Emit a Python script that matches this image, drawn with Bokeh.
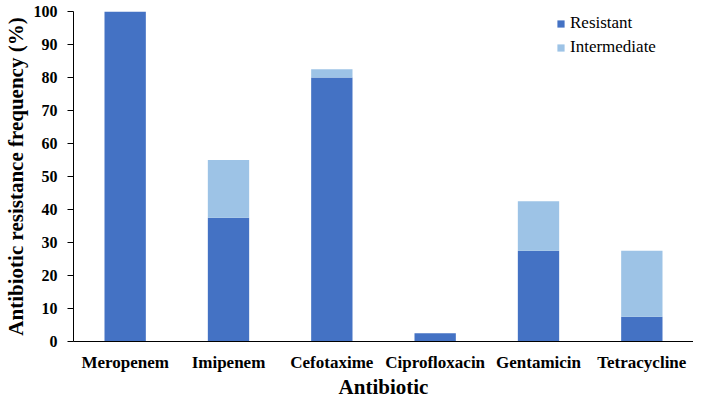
from bokeh.plotting import figure
from bokeh.models import FactorRange, Range1d, SingleIntervalTicker
from bokeh.embed import file_html
from bokeh.resources import INLINE

categories = ["Meropenem", "Imipenem", "Cefotaxime", "Ciprofloxacin", "Gentamicin", "Tetracycline"]
resistant = [100, 37.5, 80, 2.5, 27.5, 7.5]
intermediate = [0, 17.5, 2.5, 0, 15, 20]
series = ["Resistant", "Intermediate"]
colors = ["#4472C4", "#9DC3E6"]
x_title = "Antibiotic"
y_title = "Antibiotic resistance frequency (%)"

data = {"cat": categories, "Resistant": resistant, "Intermediate": intermediate}

FONT = "Liberation Serif"
W, H = 693, 401
LEFT, RIGHT, TOP, BOTTOM = 67, 0, 11, 60

p = figure(width=W, height=H, x_range=FactorRange(*categories, range_padding=0),
           y_range=Range1d(0, 100), output_backend="svg", toolbar_location=None,
           min_border_left=LEFT, min_border_right=RIGHT, min_border_top=TOP,
           min_border_bottom=BOTTOM)

p.vbar_stack(series, x="cat", width=0.4, color=colors, line_color=None,
             source=data, legend_label=series)

p.xgrid.grid_line_color = None
p.ygrid.grid_line_color = None
p.outline_line_color = None
p.background_fill_color = "white"
p.border_fill_color = "white"

# y axis
p.yaxis.ticker = SingleIntervalTicker(interval=10)
p.yaxis.axis_label = y_title
p.yaxis.axis_label_text_font = FONT
p.yaxis.axis_label_text_font_style = "bold"
p.yaxis.axis_label_text_font_size = "21px"
p.yaxis.axis_label_text_color = "black"
p.yaxis.axis_label_standoff = 3
p.yaxis.major_label_text_font = FONT
p.yaxis.major_label_text_font_style = "bold"
p.yaxis.major_label_text_font_size = "16px"
p.yaxis.major_label_text_color = "black"
p.yaxis.major_label_standoff = 10
p.yaxis.major_tick_out = 6
p.yaxis.major_tick_in = 0
p.yaxis.minor_tick_line_color = None
p.yaxis.axis_line_color = "black"
p.yaxis.major_tick_line_color = "black"

# x axis
p.xaxis.axis_label = x_title
p.xaxis.axis_label_text_font = FONT
p.xaxis.axis_label_text_font_style = "bold"
p.xaxis.axis_label_text_font_size = "21px"
p.xaxis.axis_label_text_color = "black"
p.xaxis.axis_label_standoff = 0
p.xaxis.major_label_text_font = FONT
p.xaxis.major_label_text_font_style = "bold"
p.xaxis.major_label_text_font_size = "17px"
p.xaxis.major_label_text_color = "black"
p.xaxis.major_label_standoff = 11
p.xaxis.major_tick_line_color = None
p.xaxis.major_tick_out = 0
p.xaxis.major_tick_in = 0
p.xaxis.axis_line_color = "black"

# legend
lg = p.legend[0]
lg.location = (483, 282)
lg.border_line_color = None
lg.background_fill_alpha = 0
lg.padding = 0
lg.margin = 0
lg.spacing = 0
lg.glyph_width = 9
lg.glyph_height = 9
lg.label_height = 24
lg.label_standoff = 5
lg.label_text_font = FONT
lg.label_text_font_size = "17px"
lg.label_text_color = "black"

html = file_html(p, INLINE)
open("out.html", "w").write(html)
